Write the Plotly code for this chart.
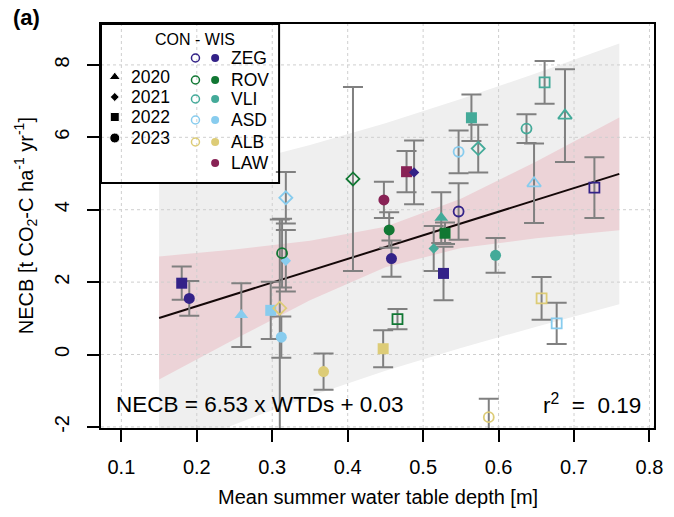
import plotly.graph_objects as go

# ---------------- data ----------------
site = ["ZEG", "ZEG", "ASD", "ASD", "ROV", "ASD", "ALB", "ASD", "ASD", "ALB",
        "ROV", "LAW", "ROV", "ZEG", "ALB", "ROV", "LAW", "ZEG", "VLI", "VLI",
        "ROV", "ZEG", "ZEG", "ASD", "VLI", "VLI", "VLI", "ALB", "VLI", "ASD",
        "VLI", "VLI", "ZEG", "ALB", "ASD"]
kind = ["WIS", "WIS", "WIS", "WIS", "CON", "WIS", "CON", "WIS", "CON", "WIS",
        "CON", "WIS", "WIS", "WIS", "WIS", "CON", "WIS", "WIS", "WIS", "WIS",
        "WIS", "WIS", "CON", "CON", "WIS", "CON", "WIS", "CON", "CON", "CON",
        "CON", "CON", "CON", "CON", "CON"]
year = [2022, 2023, 2020, 2022, 2023, 2021, 2021, 2023, 2021, 2023,
        2021, 2023, 2023, 2023, 2022, 2022, 2022, 2021, 2021, 2020,
        2022, 2022, 2023, 2023, 2022, 2021, 2023, 2023, 2023, 2020,
        2022, 2020, 2022, 2022, 2022]
wtd = [0.180, 0.190, 0.259, 0.298, 0.313, 0.318, 0.310, 0.312, 0.318, 0.368,
       0.407, 0.448, 0.455, 0.458, 0.447, 0.466, 0.478, 0.488, 0.514, 0.524,
       0.529, 0.527, 0.547, 0.547, 0.564, 0.573, 0.596, 0.587, 0.637, 0.647,
       0.661, 0.688, 0.727, 0.657, 0.677]
necb = [1.97, 1.55, 1.09, 1.22, 2.80, 2.59, 1.28, 0.48, 4.33, -0.47,
        4.85, 4.27, 3.44, 2.65, 0.16, 0.98, 5.05, 5.03, 2.93, 3.78,
        3.35, 2.24, 3.95, 5.60, 6.54, 5.69, 2.74, -1.73, 6.24, 4.73,
        7.52, 6.60, 4.61, 1.55, 0.86]
err_up = [0.46, 0.48, 0.88, 0.79, 0.95, 0.85, 2.45, 0.57, 0.71, 0.50,
          2.54, 0.50, 0.49, 0.50, 0.51, 0.28, 0.57, 0.88, 0.62, 0.70,
          0.30, 0.74, 0.78, 0.59, 0.64, 0.66, 0.48, 0.51, 0.40, 1.10,
          0.59, 1.28, 0.84, 0.59, 0.57]
err_dn = [0.46, 0.48, 0.88, 0.79, 0.95, 0.85, 3.60, 0.57, 0.71, 0.50,
          2.54, 0.50, 0.49, 0.50, 0.51, 0.28, 0.57, 0.88, 0.62, 0.70,
          0.30, 0.74, 0.78, 0.59, 0.64, 0.66, 0.48, 0.51, 0.40, 1.10,
          0.59, 1.28, 0.84, 0.59, 0.57]

# regression line and bands, read at these depths
band_x = [0.15, 0.25, 0.35, 0.45, 0.55, 0.65, 0.76]
fit_y = [1.01, 1.66, 2.32, 2.97, 3.62, 4.27, 4.99]
ci_hi = [2.71, 2.90, 3.14, 3.53, 4.30, 5.33, 6.55]
ci_lo = [-0.69, 0.42, 1.50, 2.41, 2.94, 3.21, 3.43]
pi_hi = [4.79, 5.25, 5.79, 6.39, 7.06, 7.77, 8.59]
pi_lo = [-2.77, -1.93, -1.15, -0.45, 0.18, 0.77, 1.39]

x_ticks = [0.1, 0.2, 0.3, 0.4, 0.5, 0.6, 0.7, 0.8]
y_ticks = [-2, 0, 2, 4, 6, 8]
legend_sites = ["ZEG", "ROV", "VLI", "ASD", "ALB", "LAW"]
legend_con = [True, True, True, True, True, False]
legend_years = [2020, 2021, 2022, 2023]

# ---------------- styling ----------------
W, H = 674, 517
ML, MR, MT, MB = 101, 11, 24, 89
XR = [0.073, 0.806]
YR = [-2.03, 9.13]
FONT = "Liberation Sans, Arial, sans-serif"
site_col = {"ZEG": "#332288", "ROV": "#117733", "VLI": "#44AA99",
            "ASD": "#88CCEE", "ALB": "#DDCC77", "LAW": "#882255"}
sym_fill = {2020: "triangle-up", 2021: "diamond", 2022: "square", 2023: "circle"}
size_fill = {2020: 12, 2021: 8, 2022: 11, 2023: 11}
size_open = {2020: 12, 2021: 10, 2022: 10, 2023: 10}
PI_COL = "#efefef"
CI_COL = "#ecd3d7"
GRID_COL = "#cfcfcf"
ERR_COL = "#808080"


def px2x(px):
    return XR[0] + (px - ML) / (W - ML - MR) * (XR[1] - XR[0])


def py2y(py):
    return YR[1] - (py - MT) / (H - MT - MB) * (YR[1] - YR[0])


def px2paper(px):
    return (px - ML) / (W - ML - MR)


def py2paper(py):
    return 1 - (py - MT) / (H - MT - MB)


fig = go.Figure()

# prediction band
fig.add_trace(go.Scatter(x=band_x + band_x[::-1], y=pi_hi + pi_lo[::-1],
                         fill="toself", fillcolor=PI_COL, mode="none",
                         hoverinfo="skip", showlegend=False))
# confidence band
fig.add_trace(go.Scatter(x=band_x + band_x[::-1], y=ci_hi + ci_lo[::-1],
                         fill="toself", fillcolor=CI_COL, mode="none",
                         hoverinfo="skip", showlegend=False))

# legend background (white box, top-left)
lb = dict(x0=101, x1=282, y0=24, y1=183)
fig.add_trace(go.Scatter(
    x=[px2x(lb["x0"]), px2x(lb["x1"]), px2x(lb["x1"]), px2x(lb["x0"])],
    y=[py2y(lb["y0"]), py2y(lb["y0"]), py2y(lb["y1"]), py2y(lb["y1"])],
    fill="toself", fillcolor="white", mode="none", hoverinfo="skip",
    showlegend=False))

# dashed grid
gx, gy = [], []
for t in x_ticks:
    gx += [t, t, None]
    gy += [YR[0], YR[1], None]
for t in y_ticks:
    gx += [XR[0], XR[1], None]
    gy += [t, t, None]
fig.add_trace(go.Scatter(x=gx, y=gy, mode="lines",
                         line=dict(color=GRID_COL, width=1, dash="3px,3px"),
                         hoverinfo="skip", showlegend=False))

# regression line
fig.add_trace(go.Scatter(x=band_x, y=fit_y, mode="lines",
                         line=dict(color="#140808", width=2),
                         hoverinfo="skip", showlegend=False))

# error bars (all, beneath all markers)
fig.add_trace(go.Scatter(
    x=wtd, y=necb, mode="markers",
    marker=dict(size=1, color="rgba(0,0,0,0)"),
    error_y=dict(type="data", symmetric=False, array=err_up, arrayminus=err_dn,
                 color=ERR_COL, thickness=2, width=10),
    hoverinfo="skip", showlegend=False))

# markers
for k in ["WIS", "CON"]:
    idx = [i for i in range(len(wtd)) if kind[i] == k]
    if k == "WIS":
        marker = dict(symbol=[sym_fill[year[i]] for i in idx],
                      size=[size_fill[year[i]] for i in idx],
                      color=[site_col[site[i]] for i in idx],
                      opacity=1, line=dict(width=0))
    else:
        marker = dict(symbol=[sym_fill[year[i]] + "-open" for i in idx],
                      size=[size_open[year[i]] for i in idx],
                      color=[site_col[site[i]] for i in idx],
                      opacity=1,
                      line=dict(width=1.8, color=[site_col[site[i]] for i in idx]))
    fig.add_trace(go.Scatter(x=[wtd[i] for i in idx], y=[necb[i] for i in idx],
                             mode="markers", marker=marker, cliponaxis=False,
                             showlegend=False))

# ---------------- custom legend (pixel overlay axes) ----------------
year_y = [77, 97, 117, 138]
year_sz = {2020: 10, 2021: 7, 2022: 9, 2023: 10}
fig.add_trace(go.Scatter(
    x=[115] * len(legend_years), y=year_y, mode="markers",
    marker=dict(symbol=[sym_fill[y] for y in legend_years],
                size=[year_sz[y] for y in legend_years], color="black", opacity=1),
    xaxis="x2", yaxis="y2", hoverinfo="skip", showlegend=False))
site_y = [58, 80, 99, 120, 142, 163]
fig.add_trace(go.Scatter(
    x=[197 for s, c in zip(legend_sites, legend_con) if c],
    y=[yy for yy, c in zip(site_y, legend_con) if c], mode="markers",
    marker=dict(symbol="circle-open", size=8, opacity=1,
                color=[site_col[s] for s, c in zip(legend_sites, legend_con) if c],
                line=dict(width=1.5)),
    xaxis="x2", yaxis="y2", hoverinfo="skip", showlegend=False))
fig.add_trace(go.Scatter(
    x=[217] * len(legend_sites), y=site_y, mode="markers",
    marker=dict(symbol="circle", size=8, opacity=1,
                color=[site_col[s] for s in legend_sites]),
    xaxis="x2", yaxis="y2", hoverinfo="skip", showlegend=False))

ann = []
ann.append(dict(x=197, y=39, xref="x2", yref="y2", text="CON - WIS", showarrow=False,
                font=dict(size=16, color="black", family=FONT)))
for yv, yy in zip(legend_years, year_y):
    ann.append(dict(x=129, y=yy, xref="x2", yref="y2", text=str(yv), showarrow=False,
                    xanchor="left", font=dict(size=17.5, color="black", family=FONT)))
for s, yy in zip(legend_sites, site_y):
    ann.append(dict(x=231, y=yy, xref="x2", yref="y2", text=s, showarrow=False,
                    xanchor="left", font=dict(size=17.5, color="black", family=FONT)))
# equation and r2
ann.append(dict(x=114, y=404, xref="x2", yref="y2", text="NECB = 6.53 x WTDs + 0.03",
                showarrow=False, xanchor="left",
                font=dict(size=22.5, color="black", family=FONT)))
ann.append(dict(x=652, y=404, xref="x2", yref="y2",
                text="r<sup>2</sup>\u00a0 =\u00a0 0.19",
                showarrow=False, xanchor="right",
                font=dict(size=22.5, color="black", family=FONT)))
# panel label (outside plot area -> paper coordinates)
ann.append(dict(x=px2paper(10), y=py2paper(18), xref="paper", yref="paper",
                text="<b>(a)</b>", showarrow=False, xanchor="left", yanchor="middle",
                font=dict(size=22, color="black", family=FONT)))
# axis titles
ann.append(dict(x=px2paper(382), y=py2paper(497), xref="paper", yref="paper",
                text="Mean summer water table depth [m]", showarrow=False,
                xanchor="center", yanchor="middle",
                font=dict(size=20, color="black", family=FONT)))
ann.append(dict(x=px2paper(24), y=py2paper(226), xref="paper", yref="paper",
                textangle=-90, xanchor="center", yanchor="middle",
                text="NECB [t CO<sub>2</sub>-C ha<sup>-1</sup> yr<sup>-1</sup>]",
                showarrow=False, font=dict(size=20, color="black", family=FONT)))

shapes = [dict(type="rect", xref="x2", yref="y2", x0=lb["x0"], x1=lb["x1"],
               y0=lb["y0"], y1=lb["y1"], line=dict(color="black", width=2),
               layer="above")]

axis_common = dict(showgrid=False, zeroline=False, showline=True, mirror=True,
                   linecolor="black", linewidth=2, ticks="outside", ticklen=12,
                   tickwidth=1.5, tickcolor="black",
                   tickfont=dict(size=20, color="black", family=FONT))

fig.update_layout(
    width=W, height=H,
    margin=dict(l=ML, r=MR, t=MT, b=MB),
    paper_bgcolor="white", plot_bgcolor="white",
    showlegend=False,
    xaxis=dict(range=XR, tickvals=x_ticks,
               ticktext=[f"{t:.1f}" for t in x_ticks], ticklabelstandoff=8,
               **axis_common),
    yaxis=dict(range=YR, tickvals=y_ticks, ticktext=[str(t) for t in y_ticks],
               tickangle=-90, ticklabelstandoff=10, **axis_common),
    xaxis2=dict(overlaying="x", range=[ML, W - MR], visible=False, fixedrange=True),
    yaxis2=dict(overlaying="y", range=[H - MB, MT], visible=False, fixedrange=True),
    annotations=ann,
    shapes=shapes,
)

fig.write_html("out.html")
